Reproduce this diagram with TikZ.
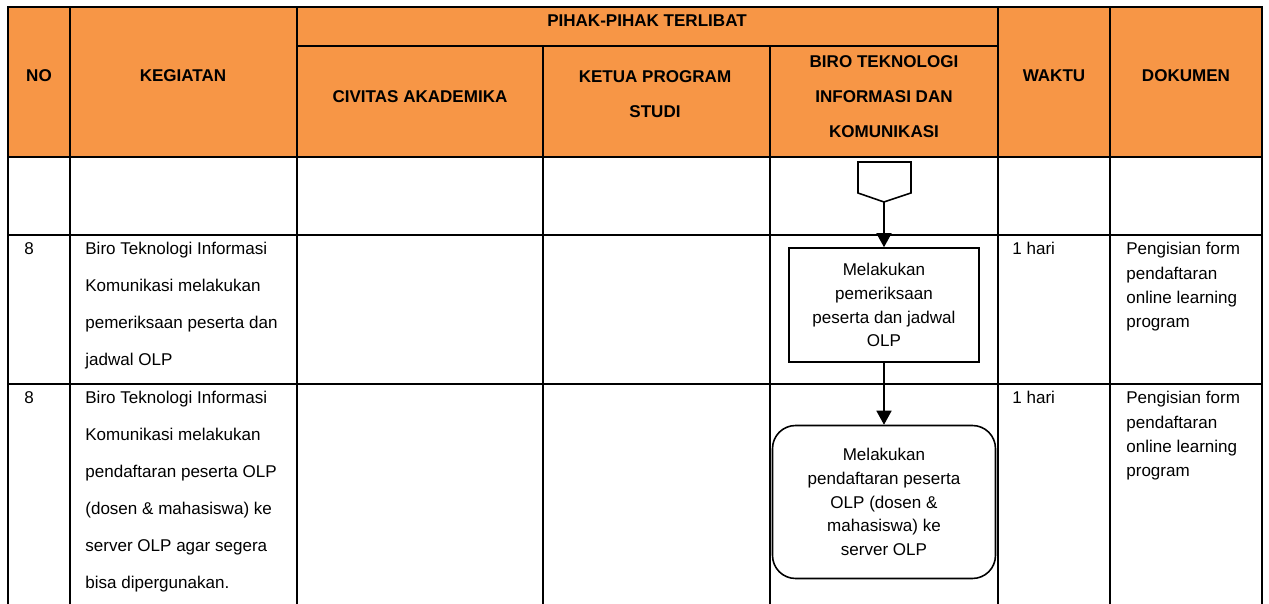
\documentclass[tikz,border=0pt]{standalone}
\usepackage{fontspec}
\setmainfont{Liberation Sans}
\usetikzlibrary{arrows.meta}
\definecolor{oranye}{RGB}{247,150,70}
\tikzset{
  garis/.style={line width=1.4pt},
  judul/.style={font=\bfseries\fontsize{9.7}{19.9}\selectfont, align=center, inner sep=0pt},
  isi/.style={font=\fontsize{9.7}{21}\selectfont, align=left, anchor=north west, inner sep=0pt},
  dok/.style={font=\fontsize{9.7}{13.9}\selectfont, align=left, anchor=north west, inner sep=0pt},
  proses/.style={draw, line width=0.9pt, fill=white, align=center, font=\fontsize{9.7}{13.6}\selectfont, inner sep=0pt},
  panah/.style={line width=0.9pt, -{Triangle[width=0.3cm,length=0.28cm]}}
}
\begin{document}
\begin{tikzpicture}[x=0.02cm,y=-0.02cm]
  \useasboundingbox (0,0) rectangle (1269,604);

  % Kepala tabel
  \fill[oranye] (8,7) rectangle (1262,157);
  \draw[garis] (8,604) -- (8,7) -- (1262,7) -- (1262,604);
  \draw[garis] (297,46) -- (998,46);
  \draw[garis] (8,157) -- (1262,157);
  \draw[garis] (8,235) -- (1262,235);
  \draw[garis] (8,384) -- (1262,384);
  \foreach \x in {70,297,998,1110} \draw[garis] (\x,7) -- (\x,604);
  \foreach \x in {543,770} \draw[garis] (\x,46) -- (\x,604);

  \node[judul] (hNo) at (39,76) {NO};
  \node[judul] (hKeg) at (183,76) {KEGIATAN};
  \node[judul] (hPihak) at (647,21) {PIHAK-PIHAK TERLIBAT};
  \node[judul] (hCiv) at (420,97) {CIVITAS AKADEMIKA};
  \node[judul] (hKaprodi) at (655,94) {KETUA PROGRAM\\STUDI};
  \node[judul] (hBiro) at (884,97) {BIRO TEKNOLOGI\\INFORMASI DAN\\KOMUNIKASI};
  \node[judul] (hWaktu) at (1054,76) {WAKTU};
  \node[judul] (hDok) at (1186,76) {DOKUMEN};

  % Baris pemeriksaan
  \node[isi] (no1) at (24,242) {8};
  \node[isi] (keg1) at (85,242) {Biro Teknologi Informasi\\Komunikasi melakukan\\pemeriksaan peserta dan\\jadwal OLP};
  \node[isi] (waktu1) at (1012,242) {1 hari};
  \node[dok] (dok1) at (1126,242) {Pengisian form\\pendaftaran\\online learning\\program};

  % Baris pendaftaran
  \node[isi] (no2) at (24,391) {8};
  \node[isi] (keg2) at (85,391) {Biro Teknologi Informasi\\Komunikasi melakukan\\pendaftaran peserta OLP\\(dosen \& mahasiswa) ke\\server OLP agar segera\\bisa dipergunakan.};
  \node[isi] (waktu2) at (1012,391) {1 hari};
  \node[dok] (dok2) at (1126,391) {Pengisian form\\pendaftaran\\online learning\\program};

  % Bagan alir
  \draw[line width=0.9pt, fill=white] (858,162) -- (911,162) -- (911,193) -- (884,202) -- (858,193) -- cycle;
  \coordinate (offTip) at (884,202);
  \node[proses, minimum width=3.8cm, minimum height=2.28cm] (periksa) at (884,305)
    {Melakukan\\pemeriksaan\\peserta dan jadwal\\OLP};
  \node[proses, rounded corners=0.46cm, minimum width=4.46cm, minimum height=3.06cm] (daftar) at (884,502)
    {Melakukan\\pendaftaran peserta\\OLP (dosen \&\\mahasiswa) ke\\server OLP};
  \draw[panah] (offTip) -- (periksa);
  \draw[panah] (periksa) -- (daftar);
\end{tikzpicture}
\end{document}
